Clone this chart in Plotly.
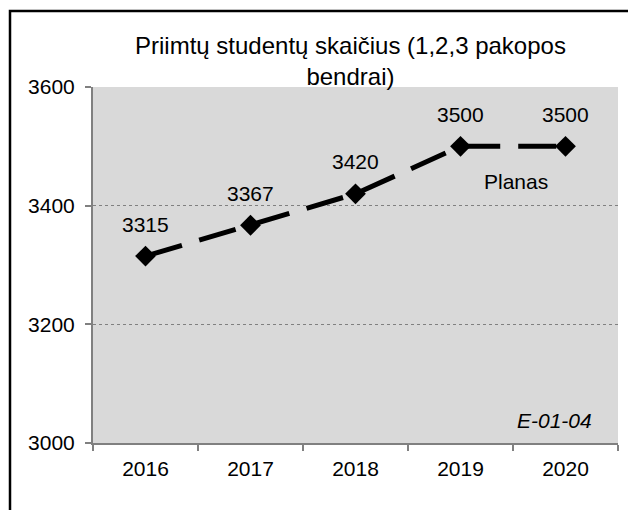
import plotly.graph_objects as go

years = ["2016", "2017", "2018", "2019", "2020"]
students = [3315, 3367, 3420, 3500, 3500]
y_ticks = [3000, 3200, 3400, 3600]
title_text = "Priimtų studentų skaičius (1,2,3 pakopos<br>bendrai)"
plan_label = "Planas"
code_label = "E-01-04"

FONT = "Arial, 'Liberation Sans', sans-serif"

fig = go.Figure()
fig.add_trace(go.Scatter(
    x=years, y=students, mode="lines+markers",
    line=dict(color="black", width=5, dash="38px,18px"),
    marker=dict(symbol="diamond", size=16, color="black"),
    hoverinfo="skip", showlegend=False,
))

annotations = []
for i, v in enumerate(students):
    annotations.append(dict(x=i, y=v, text=str(v), showarrow=False,
                            yshift=32, xanchor="center", yanchor="middle",
                            font=dict(size=21, color="black", family=FONT)))
annotations.append(dict(x=3.53, y=3440, text=plan_label, showarrow=False,
                        xanchor="center", yanchor="middle",
                        font=dict(size=21, color="black", family=FONT)))
annotations.append(dict(x=0.955, y=0.062, xref="paper", yref="paper",
                        text="<i>" + code_label + "</i>", showarrow=False,
                        xanchor="right", yanchor="middle",
                        font=dict(size=21, color="black", family=FONT)))
annotations.append(dict(x=0.49, y=1.0 + (87 - 30) / 356, xref="paper", yref="paper",
                        text=title_text, showarrow=False,
                        xanchor="center", yanchor="top",
                        font=dict(size=24, color="black", family=FONT)))

fig.update_layout(
    width=628, height=510,
    margin=dict(l=93, r=10, t=87, b=67),
    paper_bgcolor="white", plot_bgcolor="#d9d9d9",
    font=dict(family=FONT, size=21, color="black"),
    annotations=annotations,
    shapes=[dict(type="rect", xref="paper", yref="paper",
                 x0=(10 - 93) / 525, x1=1.2, y0=-0.4, y1=(443 - 11) / 356,
                 line=dict(color="black", width=2.5), fillcolor="rgba(0,0,0,0)",
                 layer="above")],
)
fig.update_xaxes(
    type="category", range=[-0.5, len(years) - 0.5], autorange=False,
    tickson="boundaries", ticks="outside", ticklen=6,
    tickcolor="#808080", tickwidth=1.5,
    showline=True, linecolor="#808080", linewidth=2,
    showgrid=False, zeroline=False, tickangle=0,
    tickfont=dict(size=21, family=FONT, color="black"),
    ticklabelstandoff=6,
)
fig.update_yaxes(
    range=[3000, 3600], autorange=False, tickvals=y_ticks, ticks="outside", ticklen=6,
    tickcolor="#808080", tickwidth=1.5,
    showline=True, linecolor="#808080", linewidth=2,
    showgrid=True, gridcolor="#808080", gridwidth=1, griddash="dot",
    zeroline=False,
    tickfont=dict(size=21, family=FONT, color="black"),
    ticklabelstandoff=6,
)
fig.write_html("out.html", config={"displayModeBar": False},
               post_script="document.body.style.margin='0';document.body.style.overflow='hidden';")
